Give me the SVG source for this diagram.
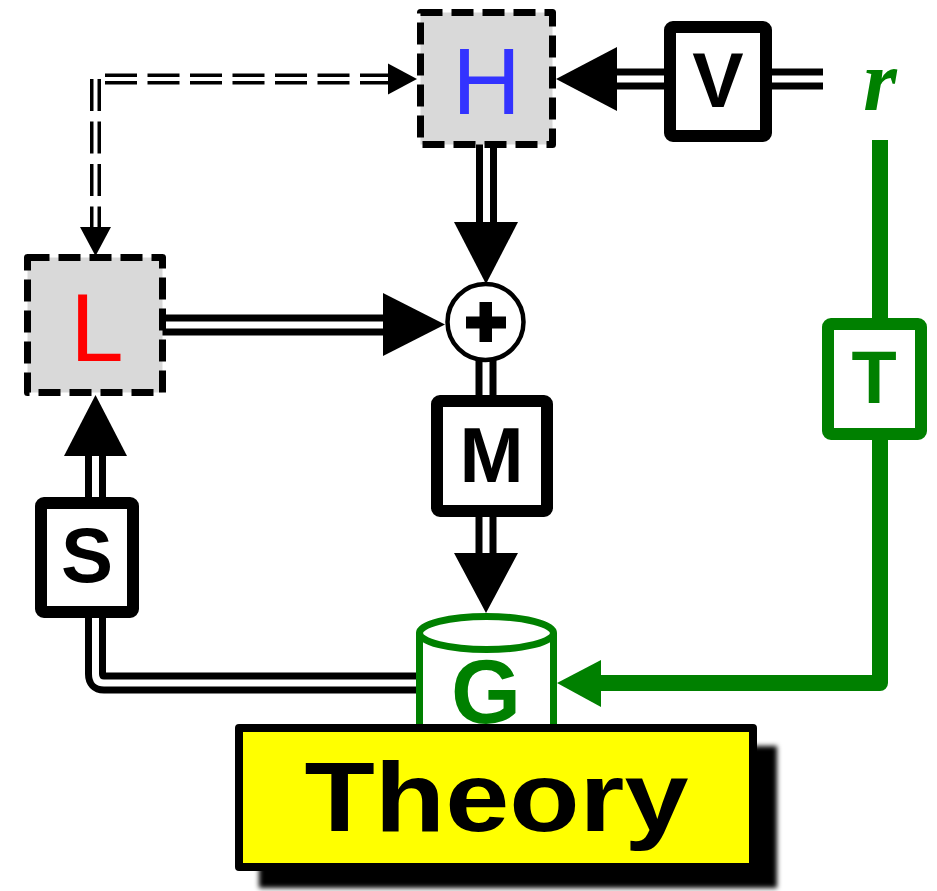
<svg xmlns="http://www.w3.org/2000/svg" width="937" height="891" viewBox="0 0 937 891">
<defs>
<style>
.dblo{fill:none;stroke:#000;stroke-width:21}
.dbli{fill:none;stroke:#fff;stroke-width:7}
.dsho{fill:none;stroke:#000;stroke-width:11;stroke-dasharray:32 10.5}
.dshi{fill:none;stroke:#fff;stroke-width:4}
.box{fill:#fff;stroke:#000;stroke-width:12;stroke-linejoin:round}
.dbox{fill:#d9d9d9;stroke:#000;stroke-width:7;stroke-dasharray:22 9;stroke-linejoin:round}
.lbl{font-family:"Liberation Sans",Arial,sans-serif;font-weight:bold;text-anchor:middle}
.lblr{font-family:"Liberation Sans",Arial,sans-serif;font-weight:normal;text-anchor:middle}
.grn{stroke:#008000;fill:none;stroke-width:16;stroke-linejoin:round}
</style>
<filter id="blur" x="-10%" y="-10%" width="120%" height="120%"><feGaussianBlur stdDeviation="2.5"/></filter>
</defs>
<rect width="937" height="891" fill="#fff"/>
<g id="connectors">
  <path class="dblo" d="M664,79H612"/><path class="dbli" d="M664,79H612"/>
  <polygon points="556,79 617,47 617,111"/>
  <path class="dblo" d="M772,79H823"/><path class="dbli" d="M772,79H823"/>
  <path class="dblo" d="M486.5,144V225"/><path class="dbli" d="M486.5,144V225"/>
  <polygon points="454,222 518,222 486,284"/>
  <path class="dblo" d="M160,325H387"/><path class="dbli" d="M160,325H387"/>
  <polygon points="383,293 383,356 445,324.5"/>
  <path class="dblo" d="M486,358V398"/><path class="dbli" d="M486,358V398"/>
  <path class="dblo" d="M486,515V556"/><path class="dbli" d="M486,515V556"/>
  <polygon points="454,553 518,553 486,613"/>
  <path class="dblo" d="M420,683H104Q95.5,683 95.5,674V615"/><path class="dbli" d="M420,683H104Q95.5,683 95.5,674V615"/>
  <path class="dblo" d="M95.5,500V452"/><path class="dbli" d="M95.5,500V452"/>
  <polygon points="64,456 127,456 95.5,395"/>
  <path class="dsho" d="M105,79H389"/><path class="dshi" d="M105,79H389"/>
  <path class="dsho" d="M95.5,79V228"/><path class="dshi" d="M95.5,79V228"/>
  <polygon points="417,79 388,63.5 388,94.5"/>
  <polygon points="95.5,256 80,227 111,227"/>
  <path class="grn" d="M880,140V326"/>
  <path class="grn" d="M880,432V683H597"/>
  <polygon fill="#008000" points="557,683 601,660 601,707"/>
</g>
<g id="node-H">
  <rect class="dbox" x="420.5" y="12.5" width="132" height="132"/>
  <text class="lblr" x="486.5" y="114" font-size="95" fill="#3333ff">H</text>
</g>
<g id="node-V">
  <rect class="box" x="670" y="27" width="96" height="109" rx="3"/>
  <text class="lbl" x="718" y="107" font-size="77">V</text>
</g>
<g id="node-r">
  <text x="880" y="110" font-family="'Liberation Serif','Times New Roman',serif" font-style="italic" font-weight="bold" font-size="86" fill="#008000" text-anchor="middle">r</text>
</g>
<g id="node-L">
  <rect class="dbox" x="27.5" y="257.5" width="135" height="135"/>
  <text class="lblr" x="97" y="361" font-size="96" fill="#ff0000">L</text>
</g>
<g id="node-plus">
  <circle cx="485.5" cy="322" r="38" fill="#fff" stroke="#000" stroke-width="4.5"/>
  <rect x="466" y="316.5" width="40" height="12"/>
  <rect x="479.5" y="302" width="12.5" height="40"/>
</g>
<g id="node-M">
  <rect class="box" x="437" y="401" width="110" height="110" rx="3"/>
  <text class="lbl" x="491.5" y="482" font-size="77">M</text>
</g>
<g id="node-S">
  <rect class="box" x="41" y="503" width="92" height="109" rx="3"/>
  <text class="lbl" x="87" y="582" font-size="78">S</text>
</g>
<g id="node-T">
  <rect x="828" y="324" width="93" height="110" rx="3" fill="#fff" stroke="#008000" stroke-width="12" stroke-linejoin="round"/>
  <text class="lbl" x="874" y="403" font-size="74" fill="#008000">T</text>
</g>
<g id="node-G">
  <rect x="419.5" y="633" width="134" height="110" fill="#fff"/>
  <path d="M419.5,633V745M553.5,633V745" stroke="#008000" stroke-width="7" fill="none"/>
  <ellipse cx="486.5" cy="633" rx="67" ry="16.5" fill="#fff" stroke="#008000" stroke-width="7"/>
  <text class="lbl" x="486" y="723" font-size="90" fill="#008000">G</text>
</g>
<g id="node-Theory">
  <rect x="259" y="746" width="518" height="142" fill="#000" filter="url(#blur)"/>
  <rect x="239" y="728" width="514" height="139" fill="#ffff00" stroke="#000" stroke-width="8" stroke-linejoin="round"/>
  <text class="lbl" x="496.5" y="831" font-size="99" textLength="384" lengthAdjust="spacingAndGlyphs">Theory</text>
</g>
</svg>
